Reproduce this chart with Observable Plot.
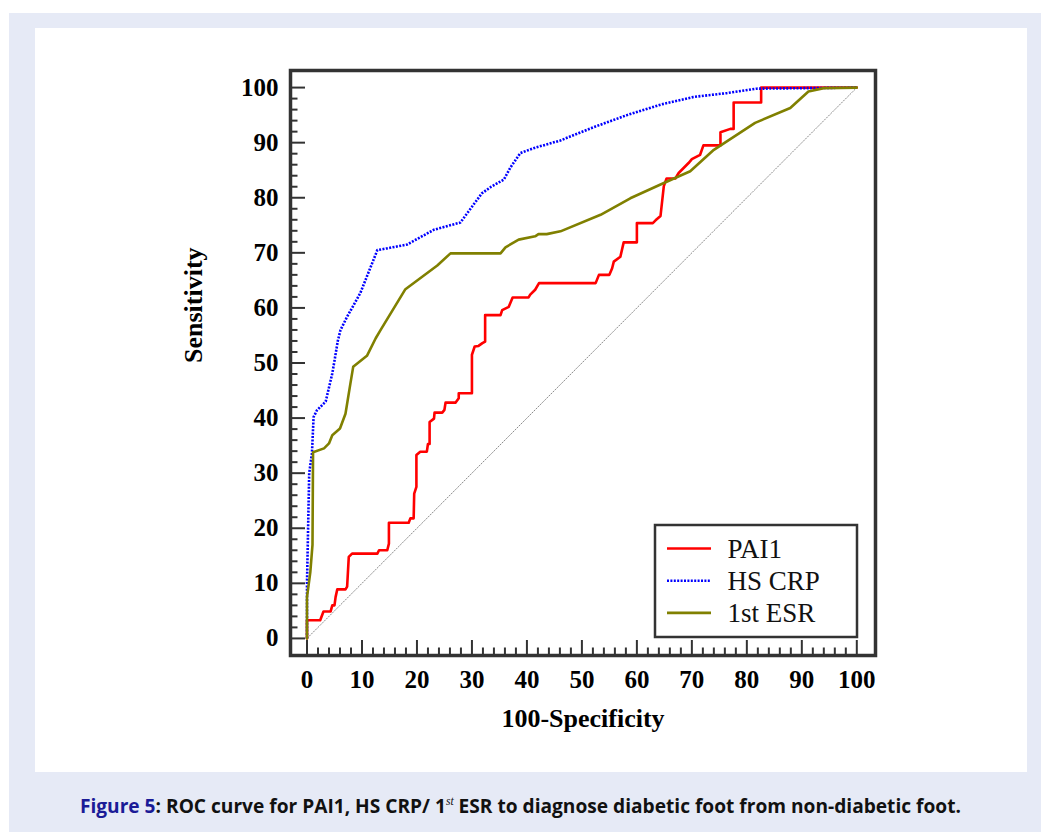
<!DOCTYPE html>
<html>
<head>
<meta charset="utf-8">
<script src="https://cdn.jsdelivr.net/npm/d3@7"></script>
<script src="https://cdn.jsdelivr.net/npm/@observablehq/plot@0.6"></script>
<style>
html, body { margin: 0; padding: 0; background: #ffffff; }
body { width: 1041px; height: 832px; position: relative; overflow: hidden; }
#bg { position: absolute; left: 9px; top: 13px; right: 0; bottom: 0; background: #e6eaf6; }
#panel { position: absolute; left: 35px; top: 28px; width: 992px; height: 744px; background: #ffffff; }
#panel svg { display: block; }
#caption { position: absolute; top: 796px; left: 0; width: 1041px; text-align: center; white-space: nowrap;
  font-family: 'Liberation Sans Narrow', 'Open Sans', 'Noto Sans', sans-serif; font-weight: bold; font-size: 20px; line-height: 20px; color: #111; }
#cap { display: inline-block; transform-origin: 50% 50%; }
#cap .fig { color: #1b1b97; }
#cap .sup { font-size: 12px; font-style: italic; font-weight: normal; position: relative; top: -8px; font-family: 'Liberation Serif', serif; }
</style>
</head>
<body>
<div id="bg"></div>
<div id="panel"></div>
<div id="caption"><span id="cap"><span class="fig">Figure 5</span>: ROC curve for PAI1, HS CRP/ 1<span class="sup">st</span> ESR to diagnose diabetic foot from non-diabetic foot.</span></div>
<script>
// ---- data ----
const seriesNames = ["PAI1", "HS CRP", "1st ESR"];
const seriesColors = ["#ff0000", "#0000ff", "#808000"];
const xTickValues = [0, 10, 20, 30, 40, 50, 60, 70, 80, 90, 100];
const yTickValues = [0, 10, 20, 30, 40, 50, 60, 70, 80, 90, 100];
const minorTickValues = d3.range(0, 101, 2);
const xLabel = "100-Specificity";
const yLabel = "Sensitivity";

// [100-Specificity, Sensitivity]
const pai1 = [
  [0,0],[0,3.3],[2.4,3.3],[3.0,4.9],[4.3,4.9],[4.6,6.0],[5.0,6.0],[5.2,7.5],[5.5,8.9],[7.0,8.9],
  [7.3,9.4],[7.6,14.8],[8.2,15.4],[12.8,15.4],[13.1,16.0],[14.6,16.0],[14.9,17.2],[14.9,21.0],[18.5,21.0],[18.8,21.8],
  [19.4,21.8],[19.5,26.3],[19.9,27.5],[19.9,33.3],[20.6,33.9],[21.8,33.9],[22.0,35.3],[22.3,35.3],[22.3,39.3],[23.1,39.9],
  [23.2,41.0],[24.6,41.0],[25.0,41.5],[25.2,42.8],[27.0,42.8],[27.6,43.6],[27.6,44.5],[30.0,44.5],[30.0,51.5],[30.5,53.0],
  [31.2,53.1],[31.9,53.6],[32.4,53.9],[32.4,58.7],[35.2,58.7],[35.5,59.6],[36.7,60.2],[37.4,61.9],[40.3,61.9],[40.6,62.4],
  [41.5,63.3],[42.2,64.5],[52.5,64.5],[53.1,66.0],[55.0,66.0],[55.5,67.2],[55.8,68.4],[57.0,69.3],[57.6,71.9],[60.0,71.9],
  [60.0,75.4],[62.9,75.4],[63.4,75.9],[64.3,76.7],[64.9,82.1],[65.4,83.5],[67.0,83.5],[67.6,84.5],[69.4,86.3],[70.0,87.0],
  [71.5,87.8],[72.1,89.5],[75.2,89.5],[75.2,91.9],[77.0,92.5],[77.6,92.5],[77.6,97.3],[82.6,97.3],[82.6,100],[100,100]
];
const hscrp = [
  [0,0],[0,10],[0.2,20],[0.4,30],[0.9,33.6],[1.2,40.2],[1.8,41.4],[3.4,43.0],[4.6,48.1],[5.1,51.0],
  [5.6,54.0],[6.1,56.0],[7.3,58.4],[9.7,62.7],[12.8,70.5],[14.5,70.8],[18.2,71.5],[23.1,74.2],[27.9,75.5],[31.8,80.8],
  [33.5,82.0],[35.8,83.3],[37.0,85.5],[38.8,88.1],[41.2,89.0],[46.1,90.4],[52.1,92.8],[58.2,95.0],[64.3,96.9],[70.3,98.3],
  [76.4,99.0],[81.8,99.8],[100,100]
];
const esr = [
  [0,0],[0,7.5],[0.6,12.0],[1.0,17.0],[1.1,33.8],[3.1,34.5],[4.0,35.4],[4.6,36.9],[6.0,38.1],[7.0,40.8],
  [7.9,46.3],[8.4,49.3],[10.9,51.3],[12.5,54.5],[13.4,56.0],[17.9,63.4],[23.7,67.7],[26.1,69.9],[35.2,69.9],[36.1,71.0],
  [38.5,72.4],[41.5,73.0],[42.1,73.4],[43.6,73.4],[46.1,73.9],[53.4,76.9],[58.8,79.9],[64.3,82.4],[69.7,84.8],[74.0,88.7],
  [81.5,93.6],[87.9,96.3],[91.2,99.3],[94.0,99.9],[100,100]
];
const diagonal = [[0,0],[100,100]];

// ---- layout ----
const W = 992, H = 744;
const mL = 255, mR = 152, mT = 42, mB = 117;
const xDom = [-3, 103.4], yDom = [-3.1, 103.1];
const pxX = (W - mL - mR) / (xDom[1] - xDom[0]);
const pxY = (H - mT - mB) / (yDom[1] - yDom[0]);
const majorLen = 15, minorLen = 7.5;
const serif = "'Liberation Serif', 'Times New Roman', 'DejaVu Serif', serif";
const isMajor = v => v % 10 === 0;
const dotted = "2,1.4";

const xy = {x: d => d[0], y: d => d[1]};

const chart = Plot.plot({
  width: W, height: H,
  marginLeft: mL, marginRight: mR, marginTop: mT, marginBottom: mB,
  x: {domain: xDom},
  y: {domain: yDom},
  style: {fontFamily: serif, background: "white", color: "#000", overflow: "visible"},
  marks: [
    Plot.line(diagonal, {...xy, stroke: "#8a8a8a", strokeWidth: 1, strokeDasharray: "2,1", strokeLinecap: "butt"}),
    Plot.line(pai1, {...xy, stroke: seriesColors[0], strokeWidth: 2.6}),
    Plot.line(hscrp, {...xy, stroke: seriesColors[1], strokeWidth: 2.6, strokeDasharray: dotted, strokeLinecap: "butt"}),
    Plot.line(esr, {...xy, stroke: seriesColors[2], strokeWidth: 2.6}),
    // inward tick marks on bottom axis
    Plot.ruleX(minorTickValues, {x: d => d, y1: yDom[0], y2: d => yDom[0] + (isMajor(d) ? majorLen : minorLen) / pxY, stroke: "#333", strokeWidth: 2}),
    // inward tick marks on left axis
    Plot.ruleY(minorTickValues, {y: d => d, x1: xDom[0], x2: d => xDom[0] + (isMajor(d) ? majorLen : minorLen) / pxX, stroke: "#333", strokeWidth: 2}),
    Plot.frame({stroke: "#333", strokeWidth: 3.5}),
    Plot.axisX(xTickValues, {tickSize: 0, tickPadding: 15, fontSize: 25, fontWeight: "bold", fontFamily: serif, label: null}),
    Plot.axisY(yTickValues, {tickSize: 0, tickPadding: 12, fontSize: 25, fontWeight: "bold", fontFamily: serif, label: null}),
    Plot.text([xLabel], {text: d => d, frameAnchor: "bottom", dy: 63, lineAnchor: "middle", fontSize: 26, fontWeight: "bold", fontFamily: serif, fill: "#000"}),
    Plot.text([yLabel], {text: d => d, frameAnchor: "left", dx: -97, rotate: -90, lineAnchor: "middle", fontSize: 26, fontWeight: "bold", fontFamily: serif, fill: "#000"})
  ]
});
document.getElementById("panel").appendChild(chart);

// ---- legend (inside frame, bottom-right) ----
const svg = d3.select(chart);
const frameRight = W - mR, frameBottom = H - mB;
const lgW = 202, lgH = 112;
const lgX = frameRight - 18 - lgW, lgY = frameBottom - 18 - lgH;
const lg = svg.append("g").attr("transform", `translate(${lgX},${lgY})`)
  .attr("text-anchor", "start");
lg.append("rect").attr("width", lgW).attr("height", lgH).attr("fill", "white").attr("stroke", "#333").attr("stroke-width", 2.5);
const dashes = [null, dotted, null];
seriesNames.forEach((name, i) => {
  const cy = 23.5 + i * 32.2;
  lg.append("line").attr("x1", 12).attr("x2", 56).attr("y1", cy).attr("y2", cy)
    .attr("stroke", seriesColors[i]).attr("stroke-width", 2.6)
    .attr("stroke-dasharray", dashes[i]);
  lg.append("text").attr("x", 72.5).attr("y", cy + 9.4).text(name)
    .attr("text-anchor", "start")
    .attr("font-family", serif).attr("font-size", 27).attr("fill", "#111");
});

// ---- fit caption width ----
const cap = document.getElementById("cap");
const w = cap.getBoundingClientRect().width;
cap.style.transform = `scaleX(${881 / w})`;
</script>
</body>
</html>
